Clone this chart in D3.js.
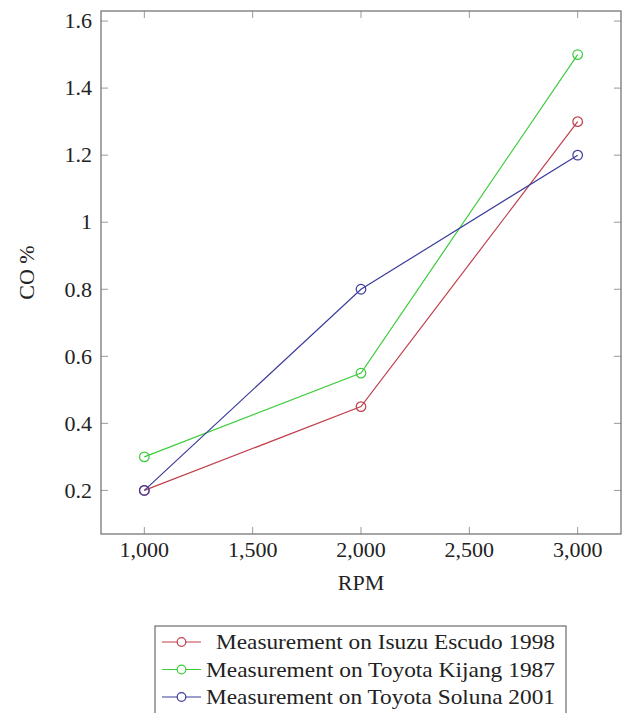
<!DOCTYPE html>
<html>
<head>
<meta charset="utf-8">
<script src="https://cdn.jsdelivr.net/npm/d3@7"></script>
<style>
  body { margin: 0; background: #fff; }
</style>
</head>
<body>
<svg id="chart"></svg>
<script>
const rpm = [1000, 2000, 3000];
const isuzu = [0.2, 0.45, 1.3];
const kijang = [0.3, 0.55, 1.5];
const soluna = [0.2, 0.8, 1.2];
const seriesNames = [
  "Measurement on Isuzu Escudo 1998",
  "Measurement on Toyota Kijang 1987",
  "Measurement on Toyota Soluna 2001"
];
const xTicks = [1000, 1500, 2000, 2500, 3000];
const yTicks = [0.2, 0.4, 0.6, 0.8, 1, 1.2, 1.4, 1.6];

const width = 624, height = 713;
const colors = ["#c0404c", "#3ccc3c", "#3c3c9c"];
const series = [isuzu, kijang, soluna];
const font = "'Liberation Serif', serif";
const fs = 22;

const svg = d3.select("#chart")
    .attr("width", width)
    .attr("height", height)
    .attr("font-family", font);

const pl = 101, pr = 621, pt = 11, pb = 534;

// pgfplots style: enlarge limits by 10%
const x = d3.scaleLinear().domain([800, 3200]).range([pl, pr]);
const y = d3.scaleLinear().domain([0.07, 1.63]).range([pb, pt]);

const tickColor = "#999";
const textColor = "#222";
const g = svg.append("g");

// ticks, inward on all four sides
xTicks.forEach(t => {
    g.append("line").attr("x1", x(t)).attr("x2", x(t)).attr("y1", pb).attr("y2", pb - 7)
        .attr("stroke", tickColor).attr("stroke-width", 1);
    g.append("line").attr("x1", x(t)).attr("x2", x(t)).attr("y1", pt).attr("y2", pt + 7)
        .attr("stroke", tickColor).attr("stroke-width", 1);
    g.append("text").attr("x", x(t)).attr("y", pb + 23)
        .attr("text-anchor", "middle").attr("font-size", fs).attr("fill", textColor)
        .text(d3.format(",")(t));
});
yTicks.forEach(t => {
    g.append("line").attr("x1", pl).attr("x2", pl + 7).attr("y1", y(t)).attr("y2", y(t))
        .attr("stroke", tickColor).attr("stroke-width", 1);
    g.append("line").attr("x1", pr).attr("x2", pr - 7).attr("y1", y(t)).attr("y2", y(t))
        .attr("stroke", tickColor).attr("stroke-width", 1);
    g.append("text").attr("x", pl - 9).attr("y", y(t)).attr("dy", "0.33em")
        .attr("text-anchor", "end").attr("font-size", fs).attr("fill", textColor)
        .text(t);
});

g.append("rect")
    .attr("x", pl).attr("y", pt)
    .attr("width", pr - pl).attr("height", pb - pt)
    .attr("fill", "none").attr("stroke", "#777").attr("stroke-width", 1.3);

// axis labels
g.append("text").attr("x", (pl + pr) / 2).attr("y", 590)
    .attr("text-anchor", "middle").attr("font-size", fs).attr("fill", textColor).text("RPM");
g.append("text")
    .attr("transform", `translate(34,${(pt + pb) / 2}) rotate(-90)`)
    .attr("text-anchor", "middle").attr("font-size", fs).attr("fill", textColor).text("CO %");

// lines + markers
const line = d3.line().x((d, i) => x(rpm[i])).y(d => y(d));
series.forEach((s, k) => {
    g.append("path").datum(s)
        .attr("d", line)
        .attr("fill", "none")
        .attr("stroke", colors[k])
        .attr("stroke-width", 1.2);
    g.selectAll(null).data(s).join("circle")
        .attr("cx", (d, i) => x(rpm[i]))
        .attr("cy", d => y(d))
        .attr("r", 4.8)
        .attr("fill", "none")
        .attr("stroke", colors[k])
        .attr("stroke-width", 1.2);
});

// legend
const legend = svg.append("g");
legend.append("rect")
    .attr("x", 155).attr("y", 626).attr("width", 411).attr("height", 100)
    .attr("fill", "#fff").attr("stroke", "#777").attr("stroke-width", 1.3);
seriesNames.forEach((name, k) => {
    const cy = 642 + k * 27.5;
    const tx = k === 0 ? 216 : 206;   // first entry has a leading space in the original
    legend.append("line").attr("x1", 162).attr("x2", 201).attr("y1", cy).attr("y2", cy)
        .attr("stroke", colors[k]).attr("stroke-width", 1.2);
    legend.append("circle").attr("cx", 181.5).attr("cy", cy).attr("r", 4.3)
        .attr("fill", "#fff").attr("stroke", colors[k]).attr("stroke-width", 1.2);
    legend.append("text").attr("x", tx).attr("y", cy).attr("dy", "0.33em")
        .attr("font-size", fs).attr("fill", textColor)
        .attr("textLength", 555 - tx).attr("lengthAdjust", "spacingAndGlyphs")
        .text(name);
});
</script>
</body>
</html>
